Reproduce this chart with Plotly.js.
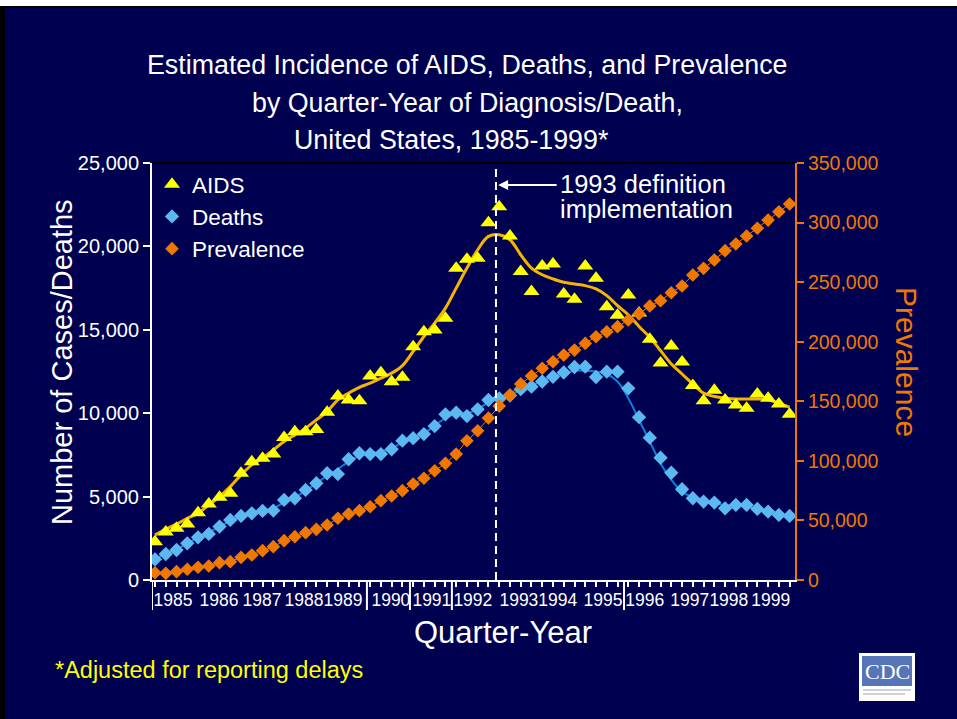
<!DOCTYPE html>
<html>
<head>
<meta charset="utf-8">
<script src="https://cdn.plot.ly/plotly-3.0.1.min.js"></script>
<style>
  html, body { margin: 0; padding: 0; background: #ffffff; }
  #wrap { position: relative; width: 957px; height: 719px; overflow: hidden; }
  #chart { position: absolute; left: 0; top: 0; width: 957px; height: 719px; }
  .deco { position: absolute; pointer-events: none; }
</style>
</head>
<body>
<div id="wrap">
  <div id="chart"></div>
  <div class="deco" style="left:0;top:0;width:957px;height:6px;background:#ffffff;"></div>
  <div class="deco" style="left:0;top:6px;width:957px;height:2px;background:#000000;"></div>
  <div class="deco" style="left:0;top:6px;width:5px;height:713px;background:#000000;"></div>
</div>
<script>
// ---------------- DATA ----------------
const years = [1985, 1986, 1987, 1988, 1989, 1990, 1991, 1992, 1993, 1994, 1995, 1996, 1997, 1998, 1999];
const quarterNames = ['Q1', 'Q2', 'Q3', 'Q4'];
const quarters = years.flatMap(y => quarterNames.map(q => y + ' ' + q));

// AIDS incidence (quarterly, estimated)
const aids = [2300, 2880, 3100, 3360, 4030, 4560, 4960, 5200, 6400, 7090,
              7300, 7550, 8550, 8890, 8890, 9030, 10050, 11030, 10790, 10750,
              12230, 12430, 11890, 12150, 13990, 14890, 14990, 15690, 18690, 19230,
              19290, 21420, 22380, 20620, 18500, 17300, 18820, 18940, 17150, 16830,
              18820, 18090, 16380, 15870, 17090, 16000, 14430, 13010, 14030, 13070,
              11660, 10740, 11370, 10790, 10490, 10290, 11150, 10890, 10550, 9930];
// AIDS smoothed trend line
const aidsTrend = [2700, 3050, 3350, 3700, 4000, 4500, 5000, 5600, 6300, 6900,
                   7300, 7800, 8300, 8700, 9100, 9600, 10100, 10800, 11200, 11550,
                   11800, 12100, 12400, 12850, 13700, 14600, 15400, 16300, 17500, 18700,
                   19800, 20600, 20700, 20400, 19500, 18700, 18300, 18050, 17850, 17750,
                   17650, 17450, 17050, 16450, 15900, 15200, 14550, 13750, 12950, 12350,
                   11750, 11200, 11000, 10900, 10850, 10850, 10850, 10800, 10600, 10350];
// Deaths (quarterly)
const deaths = [1240, 1560, 1800, 2200, 2560, 2760, 3200, 3600, 3840, 4000,
                4140, 4160, 4800, 4900, 5400, 5800, 6400, 6350, 7240, 7600,
                7550, 7550, 7840, 8350, 8500, 8750, 9230, 9930, 10030, 9830,
                10230, 10790, 10890, 11060, 11440, 11590, 11900, 12180, 12440, 12770,
                12790, 12170, 12490, 12490, 11490, 9760, 8530, 7330, 6430, 5440,
                4900, 4700, 4640, 4300, 4500, 4500, 4260, 4100, 3900, 3840];
// Deaths smoothed trend line
const deathsTrend = [1300, 1550, 1850, 2200, 2550, 2850, 3200, 3550, 3800, 4000,
                     4150, 4300, 4650, 4950, 5350, 5800, 6250, 6650, 7100, 7450,
                     7600, 7700, 7900, 8250, 8500, 8800, 9250, 9700, 9950, 10000,
                     10250, 10650, 10900, 11100, 11400, 11650, 11950, 12200, 12400, 12550,
                     12550, 12500, 12350, 11900, 10900, 9600, 8300, 7000, 6000, 5300,
                     4950, 4750, 4600, 4500, 4450, 4400, 4250, 4100, 3950, 3850];
// Prevalence (right axis)
const prevalence = [6100, 5600, 7000, 9000, 10700, 11750, 14550, 15400, 19000, 21000,
                    24600, 27950, 33000, 36400, 39700, 42500, 46200, 51800, 55400, 58200,
                    61500, 66600, 70500, 75000, 80600, 85400, 91700, 97900, 105700, 116900,
                    125300, 136000, 146000, 155300, 164600, 171200, 177700, 183200, 188800, 193000,
                    198600, 204200, 208400, 212600, 218200, 223300, 230000, 234400, 241100, 246800,
                    256000, 261600, 268600, 276400, 282000, 288700, 295200, 302100, 309100, 315600];

const yearTickText = years.map(String);
const leftTicks = [0, 5000, 10000, 15000, 20000, 25000];
const rightTicks = [0, 50000, 100000, 150000, 200000, 250000, 300000, 350000];

// ---------------- LAYOUT HELPERS ----------------
const xIdx = quarters.map((q, i) => i);
// label positions along the quarter axis (as in the original slide)
const yearTickPositions = [1.67, 5.95, 9.94, 13.85, 17.47, 21.93, 25.74, 29.55, 33.83, 37.45, 41.64, 45.54, 49.72, 53.35, 57.25];
const separatorPositions = [-0.28, 19.7, 23.7, 27.6, 43.6];
const definitionChange = 31.7;

const PL = 152, PR = 795, PT = 163, PB = 580;
const px = x => (x - PL) / (PR - PL);
const py = y => (PB - y) / (PB - PT);

const FONT = 'Liberation Sans, Arial, Helvetica, sans-serif';
const NAVY = '#000050';
const ORANGE = '#F07800';

const traces = [
  { x: xIdx, y: deathsTrend, text: quarters, type: 'scatter', mode: 'lines',
    line: { color: '#0A7FE0', width: 2, shape: 'spline' }, showlegend: false, hoverinfo: 'skip' },
  { x: xIdx, y: deaths, text: quarters, type: 'scatter', mode: 'markers', name: 'Deaths', legendrank: 2,
    marker: { symbol: 'diamond', size: 11, color: '#5CB8F0' } },
  { x: xIdx, y: aidsTrend, text: quarters, type: 'scatter', mode: 'lines',
    line: { color: '#F5B400', width: 3, shape: 'spline' }, showlegend: false, hoverinfo: 'skip' },
  { x: xIdx, y: aids, text: quarters, type: 'scatter', mode: 'markers', name: 'AIDS', legendrank: 1,
    marker: { symbol: 'triangle-up', size: 14, color: '#FFFF00' } },
  { x: xIdx, y: prevalence, text: quarters, type: 'scatter', mode: 'lines', yaxis: 'y2',
    line: { color: ORANGE, width: 1 }, showlegend: false, hoverinfo: 'skip' },
  { x: xIdx, y: prevalence, text: quarters, type: 'scatter', mode: 'markers', name: 'Prevalence', yaxis: 'y2', legendrank: 3,
    marker: { symbol: 'diamond', size: 10.5, color: ORANGE } }
];

const white = '#FFFFFF';
const shapes = [
  { type: 'line', xref: 'x', yref: 'paper', x0: definitionChange, x1: definitionChange, y0: 0, y1: py(167),
    line: { color: white, width: 2, dash: '8px,5px' } },
  { type: 'line', xref: 'paper', yref: 'paper', x0: 0, x1: 1, y0: 1, y1: 1, line: { color: '#000000', width: 2 } },
  // CDC logo
  { type: 'rect', xref: 'paper', yref: 'paper', x0: px(859), x1: px(915), y0: py(701), y1: py(653),
    fillcolor: '#FFFFFF', line: { width: 0 } },
  { type: 'rect', xref: 'paper', yref: 'paper', x0: px(862), x1: px(912), y0: py(686), y1: py(656),
    fillcolor: '#5575B8', line: { width: 0 } },
  { type: 'line', xref: 'paper', yref: 'paper', x0: px(863), x1: px(911), y0: py(690), y1: py(690),
    line: { color: '#9aa3bf', width: 1 } },
  { type: 'line', xref: 'paper', yref: 'paper', x0: px(863), x1: px(905), y0: py(694), y1: py(694),
    line: { color: '#9aa3bf', width: 1 } }
].concat(separatorPositions.map(s => ({
  type: 'line', xref: 'x', yref: 'paper', x0: s, x1: s, y0: 0, y1: py(610),
  line: { color: white, width: 2 }
})));

const ann = (text, x, y, opts) => Object.assign({
  text: text, xref: 'paper', yref: 'paper', x: px(x), y: py(y), showarrow: false,
  xanchor: 'center', yanchor: 'middle', font: { family: FONT, size: 24, color: white }
}, opts || {});

const TF = { family: FONT, size: 26.8, color: white };
const annotations = [
  ann('Estimated Incidence of AIDS, Deaths, and Prevalence', 467, 65, { font: TF }),
  ann('by Quarter-Year of Diagnosis/Death,', 467, 103, { font: TF }),
  ann('United States, 1985-1999*', 451, 140, { font: TF }),
  ann('Number of Cases/Deaths', 62, 362, { textangle: -90, font: { family: FONT, size: 29, color: white } }),
  ann('Prevalence', 907, 362, { textangle: 90, font: { family: FONT, size: 30, color: ORANGE } }),
  ann('Quarter-Year', 503, 632, { font: { family: FONT, size: 31, color: white } }),
  ann('*Adjusted for reporting delays', 53, 670, { xanchor: 'left', font: { family: FONT, size: 23.5, color: '#FFFF00' } }),
  ann('1993 definition', 559, 184, { xanchor: 'left', borderpad: 0, font: { family: FONT, size: 25.5, color: white } }),
  ann('implementation', 559, 209, { xanchor: 'left', borderpad: 0, font: { family: FONT, size: 25.5, color: white } }),
  ann('CDC', 887, 671, { font: { family: 'Liberation Serif, DejaVu Serif, serif', size: 22, color: white } }),
  { text: '', xref: 'x', yref: 'paper', x: definitionChange + 0.2, y: py(185), showarrow: true,
    ax: 60, ay: 0, axref: 'pixel', ayref: 'pixel', arrowhead: 2, arrowsize: 1, arrowwidth: 2, arrowcolor: white }
];

const layout = {
  width: 957, height: 719,
  margin: { l: PL, r: 957 - PR, t: PT, b: 719 - PB, pad: 0 },
  paper_bgcolor: NAVY, plot_bgcolor: NAVY,
  font: { family: FONT, color: white },
  showlegend: true,
  legend: { x: 0.0, y: 1.0, xanchor: 'left', yanchor: 'top', bgcolor: 'rgba(0,0,0,0)',
            font: { family: FONT, size: 22.5, color: white }, itemwidth: 30, tracegroupgap: 0 },
  xaxis: {
    range: [-0.28, 59.5], tickmode: 'array', tickvals: yearTickPositions, ticktext: yearTickText,
    tickangle: 0, ticks: '', ticklabelstandoff: 3, showgrid: false, zeroline: false, showline: true, linecolor: white, linewidth: 2,
    tickfont: { family: FONT, size: 17.5, color: white },
    minor: { tickmode: 'linear', tick0: 0, dtick: 1, ticks: 'outside', ticklen: 5, tickwidth: 2, tickcolor: white, showgrid: false }
  },
  yaxis: {
    range: [0, 25000], tickmode: 'array', tickvals: leftTicks, tickformat: ',',
    ticks: 'outside', ticklen: 7, tickwidth: 2, tickcolor: white,
    showgrid: false, zeroline: false, showline: true, linecolor: white, linewidth: 2,
    tickfont: { family: FONT, size: 20, color: white }
  },
  yaxis2: {
    overlaying: 'y', side: 'right', range: [0, 350000], tickmode: 'array', tickvals: rightTicks, tickformat: ',',
    ticks: 'outside', ticklen: 7, tickwidth: 2, tickcolor: ORANGE,
    showgrid: false, zeroline: false, showline: true, linecolor: ORANGE, linewidth: 2,
    tickfont: { family: FONT, size: 19.5, color: ORANGE }
  },
  shapes: shapes,
  annotations: annotations
};

Plotly.newPlot('chart', traces, layout, { displayModeBar: false, responsive: false });
</script>
</body>
</html>
